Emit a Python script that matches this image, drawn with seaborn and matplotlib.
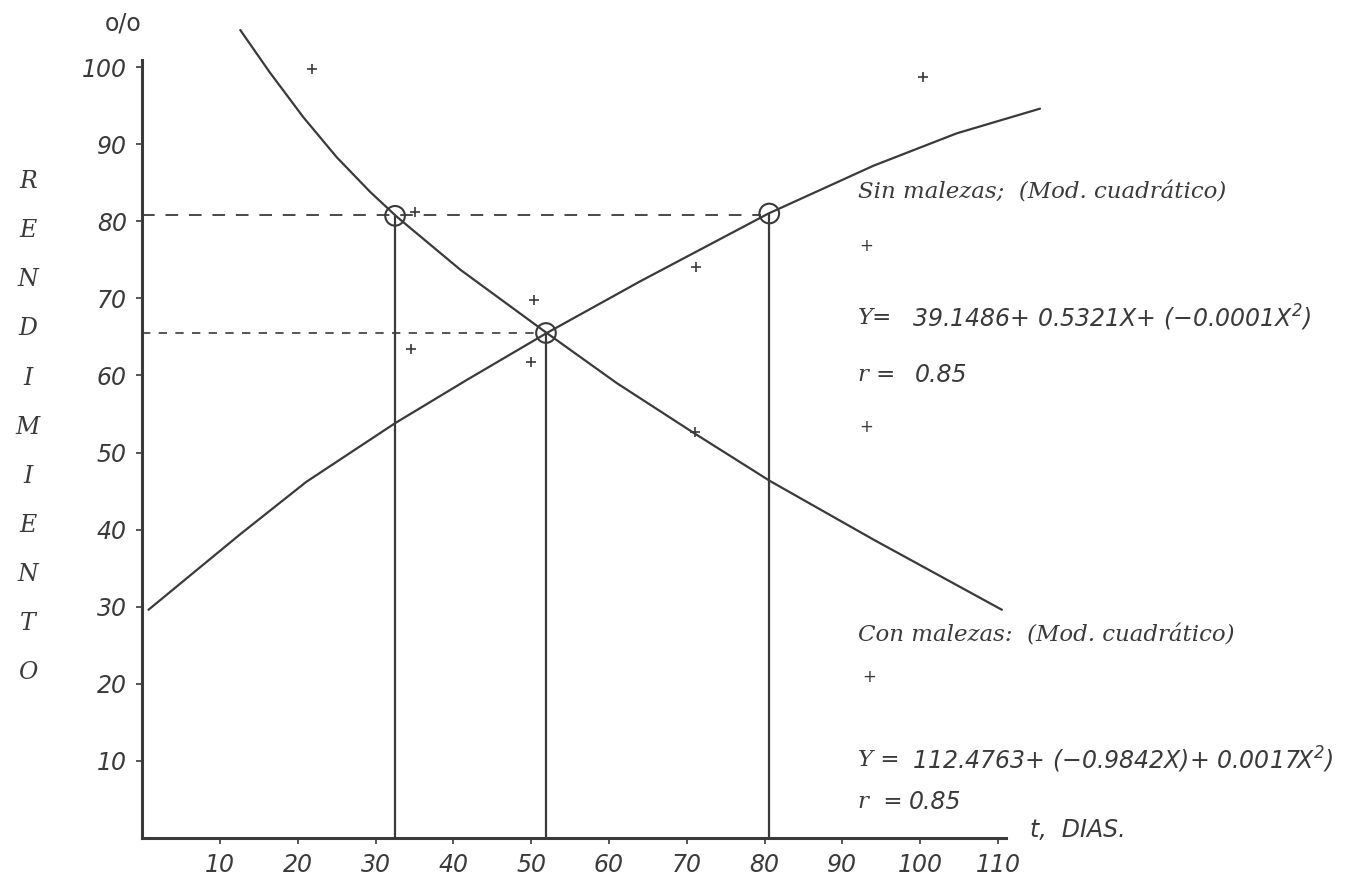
import matplotlib
matplotlib.use("Agg")
import matplotlib.pyplot as plt
import seaborn as sns
import pandas as pd

# curvas ajustadas
sin_curva_x = [0.8, 12.6, 21.1, 32.5, 41.7, 52.0, 64.0, 80.5, 94.0, 104.7, 115.4]
sin_curva_y = [29.6, 39.4, 46.2, 53.8, 59.4, 65.5, 72.2, 81.0, 87.2, 91.4, 94.6]
con_curva_x = [12.6, 16.4, 20.7, 25.0, 29.3, 32.7, 40.9, 52.0, 61.0, 70.8, 80.7, 94.0, 110.5]
con_curva_y = [104.8, 99.3, 93.5, 88.3, 83.8, 80.6, 73.7, 65.5, 59.0, 52.6, 46.3, 38.7, 29.6]

# observaciones (+)
con_obs_x = [21.8, 35.1, 50.4, 71.1]
con_obs_y = [99.7, 81.2, 69.8, 52.7]
sin_obs_x = [34.5, 50.0, 71.2, 100.4]
sin_obs_y = [63.4, 61.7, 74.1, 98.7]

# puntos marcados con circulo
corte_x = [32.5, 51.9, 80.6]
corte_y = [80.7, 65.5, 81.0]

# lineas de referencia horizontales
ref_y = [80.8, 65.5]
ref_fin = [79.6, 50.6]

x_ticks = [10, 20, 30, 40, 50, 60, 70, 80, 90, 100, 110]
y_ticks = [10, 20, 30, 40, 50, 60, 70, 80, 90, 100]
eje_y_letras = "RENDIMIENTO"

sns.set_theme(style="white")
plt.rcParams["font.family"] = ["DejaVu Sans"]
plt.rcParams["mathtext.fontset"] = "custom"
plt.rcParams["mathtext.rm"] = "DejaVu Sans:italic"
plt.rcParams["mathtext.it"] = "DejaVu Sans:italic"

tinta = "#3a3a3a"

fig = plt.figure(figsize=(13.69, 8.89), dpi=100)
ax = fig.add_axes([0.0982, 0.0487, 0.699, 0.9453])

sns.lineplot(x=sin_curva_x, y=sin_curva_y, ax=ax, color=tinta, lw=1.6)
sns.lineplot(x=con_curva_x, y=con_curva_y, ax=ax, color=tinta, lw=1.6)

obs = pd.DataFrame({
    "t": con_obs_x + sin_obs_x,
    "rend": con_obs_y + sin_obs_y,
    "grupo": ["con"] * len(con_obs_x) + ["sin"] * len(sin_obs_x),
})
sns.scatterplot(data=obs, x="t", y="rend", ax=ax, marker="+", s=60,
                color=tinta, linewidth=1.2, legend=False)

ax.vlines(corte_x, 0, corte_y, color=tinta, lw=1.6)
ax.hlines(ref_y[0], 0, ref_fin[0], color=tinta, lw=1.3, linestyles=(0, (7, 6)))
ax.hlines(ref_y[1], 0, ref_fin[1], color=tinta, lw=1.2, linestyles=(0, (5, 5)))
sns.scatterplot(x=corte_x, y=corte_y, ax=ax, marker="o", s=200,
                facecolor="none", edgecolor=tinta, linewidth=1.5)

ax.set_xlim(-1, 122)
ax.set_ylim(-1, 108)
sns.despine(ax=ax)
ax.spines["left"].set_position(("data", 0))
ax.spines["bottom"].set_position(("data", 0))
ax.spines["left"].set_bounds(0, 100.9)
ax.spines["bottom"].set_bounds(0, 111)
for s in ["left", "bottom"]:
    ax.spines[s].set_color(tinta)
    ax.spines[s].set_linewidth(2.2)

ax.set_xticks(x_ticks)
ax.set_yticks(y_ticks)
ax.set_xticklabels([str(v) for v in x_ticks], fontstyle="italic")
ax.set_yticklabels([str(v) for v in y_ticks], fontstyle="italic")
ax.tick_params(axis="both", direction="out", length=4, width=1.2, color=tinta,
               labelsize=17, labelcolor=tinta, pad=7, left=True, bottom=True)
ax.set_xlabel("")
ax.set_ylabel("")

ax.text(-2.5, 105.7, "o/o", ha="center", va="center", fontsize=17, color=tinta, clip_on=False)
ax.text(114.1, 1.0, "t,  DIAS.", ha="left", va="center", fontsize=17, fontstyle="italic",
        color=tinta, clip_on=False)

for i, letra in enumerate(eje_y_letras):
    ax.text(-14.7, 85.1 - i * 6.36, letra, ha="center", va="center", family="DejaVu Serif",
            fontstyle="italic", fontsize=17, color=tinta, clip_on=False)

serif = dict(family="DejaVu Serif", fontstyle="italic", fontsize=16.5, color=tinta,
             va="center", ha="left", clip_on=False)
sans = dict(family="DejaVu Sans", fontstyle="italic", fontsize=17, color=tinta,
            va="center", ha="left", clip_on=False)
cruz = dict(family="DejaVu Sans", fontsize=12, color=tinta,
            va="center", ha="center", clip_on=False)

ax.text(92.0, 83.7, "Sin malezas;  (Mod. cuadrático)", **serif)
ax.text(93.0, 76.8, "+", **cruz)
ax.text(92.0, 67.4, "Y=", **serif)
ax.text(98.9, 67.4, "39.1486+ 0.5321X+ (\u22120.0001X$^{2}$)", **sans)
ax.text(92.0, 60.1, "r =", **serif)
ax.text(99.3, 60.1, "0.85", **sans)
ax.text(93.0, 53.3, "+", **cruz)

ax.text(92.0, 26.3, "Con malezas:  (Mod. cuadrático)", **serif)
ax.text(93.5, 20.9, "+", **cruz)
ax.text(92.0, 10.1, "Y =", **serif)
ax.text(98.9, 10.1, "112.4763+ (\u22120.9842X)+ 0.0017X$^{2}$)", **sans)
ax.text(92.0, 4.7, "r  =", **serif)
ax.text(98.6, 4.7, "0.85", **sans)

fig.savefig("out.png", dpi=100)
